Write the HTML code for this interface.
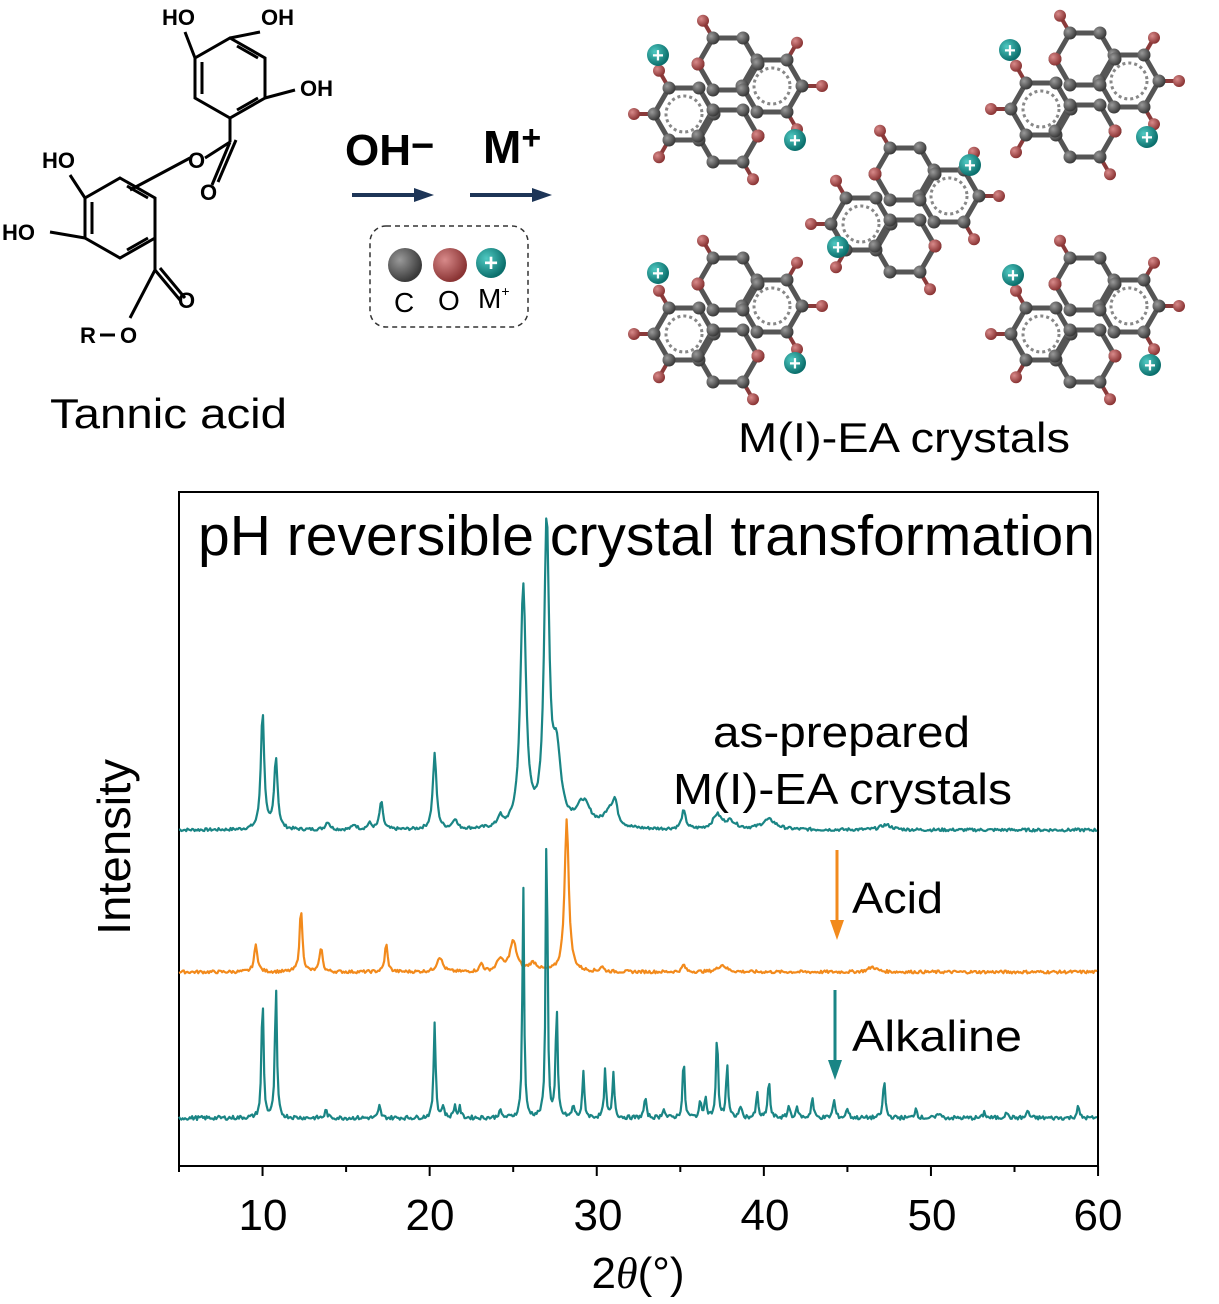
<!DOCTYPE html>
<html><head><meta charset="utf-8"><style>
html,body{margin:0;padding:0;background:#fff}
svg{display:block}
text{font-family:"Liberation Sans",Arial,sans-serif}
</style></head><body>
<svg id="s" width="1219" height="1304" viewBox="0 0 1219 1304" xmlns="http://www.w3.org/2000/svg">
<defs>
<radialGradient id="gC" cx="35%" cy="35%" r="65%"><stop offset="0" stop-color="#9a9a9a"/><stop offset="1" stop-color="#3a3a3a"/></radialGradient>
<radialGradient id="gO" cx="35%" cy="35%" r="65%"><stop offset="0" stop-color="#d88a8a"/><stop offset="1" stop-color="#8a3434"/></radialGradient>
<radialGradient id="gM" cx="35%" cy="35%" r="65%"><stop offset="0" stop-color="#4fc9c2"/><stop offset="1" stop-color="#0b6f6c"/></radialGradient>
</defs>
<!-- Tannic acid structure -->
<g stroke="#000" stroke-width="3" fill="none">
<polygon points="230,38 265,58 265,98 230,118 195,98 195,58"/>
<line x1="202" y1="62" x2="202" y2="94"/><line x1="237" y1="46" x2="258" y2="58"/><line x1="237" y1="110" x2="258" y2="98"/>
<line x1="195" y1="58" x2="185" y2="32"/><line x1="230" y1="38" x2="260" y2="32"/><line x1="265" y1="98" x2="295" y2="90"/>
<line x1="230" y1="118" x2="230" y2="142"/><line x1="230" y1="142" x2="205" y2="158"/><line x1="230" y1="142" x2="212" y2="185"/><line x1="236" y1="140" x2="218" y2="182"/>
<line x1="190" y1="158" x2="130" y2="190"/>
<polygon points="120,178 155,198 155,238 120,258 85,238 85,198"/>
<line x1="92" y1="202" x2="92" y2="234"/><line x1="127" y1="186" x2="148" y2="198"/><line x1="127" y1="250" x2="148" y2="238"/>
<line x1="85" y1="198" x2="70" y2="175"/><line x1="85" y1="238" x2="50" y2="232"/>
<line x1="155" y1="238" x2="155" y2="270"/><line x1="155" y1="270" x2="180" y2="300"/><line x1="160" y1="268" x2="185" y2="298"/>
<line x1="155" y1="270" x2="130" y2="318"/><line x1="100" y1="335" x2="115" y2="335"/>
</g>
<g font-size="22" font-weight="bold">
<text x="162" y="25">HO</text><text x="261" y="25">OH</text><text x="300" y="96">OH</text>
<text x="188" y="168">O</text><text x="200" y="200">O</text>
<text x="42" y="168">HO</text><text x="2" y="240">HO</text>
<text x="178" y="308">O</text><text x="80" y="343">R</text><text x="120" y="343">O</text>
</g>
<text x="50" y="428" font-size="42" textLength="237" lengthAdjust="spacingAndGlyphs">Tannic acid</text>
<!-- arrows -->
<text x="345" y="165" font-size="44" font-weight="bold">OH<tspan font-size="40" dy="-6">−</tspan></text>
<text x="483" y="163" font-size="46" font-weight="bold">M<tspan font-size="34" dy="-14">+</tspan></text>
<line x1="352" y1="195" x2="418" y2="195" stroke="#1d3557" stroke-width="4"/><path d="M414,188 L434,195 L414,202z" fill="#1d3557"/>
<line x1="470" y1="195" x2="536" y2="195" stroke="#1d3557" stroke-width="4"/><path d="M532,188 L552,195 L532,202z" fill="#1d3557"/>
<rect x="370" y="226" width="158" height="101" rx="16" fill="none" stroke="#333" stroke-width="1.5" stroke-dasharray="5,4"/>
<circle cx="405" cy="265" r="17" fill="url(#gC)"/><circle cx="450" cy="265" r="17" fill="url(#gO)"/><circle cx="491" cy="263" r="15" fill="url(#gM)"/>
<text x="491" y="271" font-size="24" font-weight="bold" fill="#fff" text-anchor="middle">+</text>
<text x="394" y="312" font-size="28">C</text><text x="438" y="310" font-size="28">O</text><text x="478" y="308" font-size="28">M<tspan font-size="14" dy="-12">+</tspan></text>
<g id="mols"></g>
<text x="738" y="452" font-size="42" textLength="332" lengthAdjust="spacingAndGlyphs">M(I)-EA crystals</text>
<!-- chart -->
<rect x="179" y="492" width="919" height="674" fill="none" stroke="#000" stroke-width="2"/>
<g id="ticks" stroke="#000" stroke-width="2"></g>
<g font-size="44" text-anchor="middle">
<text x="263" y="1230">10</text><text x="430" y="1230">20</text><text x="598" y="1230">30</text><text x="765" y="1230">40</text><text x="932" y="1230">50</text><text x="1098" y="1230">60</text>
</g>
<text x="638" y="1288" font-size="44" text-anchor="middle">2<tspan font-family="Liberation Serif" font-style="italic">θ</tspan>(°)</text>
<text transform="translate(130,847) rotate(-90)" font-size="46" text-anchor="middle" textLength="176" lengthAdjust="spacingAndGlyphs">Intensity</text>
<g id="traces"></g>
<text x="198" y="555" font-size="57" textLength="897" lengthAdjust="spacingAndGlyphs">pH reversible crystal transformation</text>
<text x="713" y="747" font-size="44" textLength="257" lengthAdjust="spacingAndGlyphs">as-prepared</text>
<text x="673" y="804" font-size="44" textLength="339" lengthAdjust="spacingAndGlyphs">M(I)-EA crystals</text>
<line x1="837" y1="850" x2="837" y2="925" stroke="#f28a1c" stroke-width="3"/><path d="M830,920 L844,920 L837,940z" fill="#f28a1c"/>
<text x="852" y="913" font-size="44" textLength="91" lengthAdjust="spacingAndGlyphs">Acid</text>
<line x1="835" y1="990" x2="835" y2="1063" stroke="#1a8585" stroke-width="3"/><path d="M828,1060 L842,1060 L835,1080z" fill="#1a8585"/>
<text x="852" y="1051" font-size="44" textLength="170" lengthAdjust="spacingAndGlyphs">Alkaline</text>
</svg>
<script>
(function(){
var NS="http://www.w3.org/2000/svg";
function el(t,a,p){var e=document.createElementNS(NS,t);for(var k in a)e.setAttribute(k,a[k]);p.appendChild(e);return e;}
var tk=document.getElementById('ticks');
for(var d=5;d<=60;d+=5){var x=179+(d-5)*16.71;el('line',{x1:x,y1:1166,x2:x,y2:d%10==0?1176:1172},tk);}
var tr=document.getElementById('traces');
var seed=7;function rnd(){seed=(seed*9301+49297)%233280;return seed/233280;}
function trace(base,peaks,col,w,noise){
 var pts=[];for(var x=179;x<=1098;x+=1.2){var d=5+(x-179)/16.71;var y=0;
  for(var i=0;i<peaks.length;i++){var p=peaks[i];var g=(d-p[0])/(p[2]||w);y+=p[1]/(1+g*g);}
  y+=(rnd()-0.5)*noise;pts.push(x.toFixed(1)+','+(base-y).toFixed(1));}
 el('polyline',{points:pts.join(' '),fill:'none',stroke:col,'stroke-width':2.2,'stroke-linejoin':'round'},tr);}
trace(830,[[10.0,118,.12],[10.8,72,.12],[13.9,8],[15.5,5],[16.4,6],[17.1,28,.12],[20.3,75,.13],[21.5,10],[24.2,10],[25.6,240,.2],[27.0,298,.18],[27.6,70,.3],[29.2,25,.5],[30.8,18,.4],[31.1,18],[35.2,18,.15],[37.2,14,.3],[38,8,.4],[40.3,10,.5],[47.3,5,.4]],'#1a8585',0.15,3);
trace(972,[[9.6,27,.12],[12.3,63,.1],[13.5,25,.1],[17.4,28,.1],[20.6,15,.2],[23.1,8],[24.2,12,.2],[25.0,30,.25],[26.2,8,.3],[28.2,152,.15],[30.3,5],[35.2,7],[37.5,7,.3],[46.5,5,.3]],'#f28a1c',0.12,3);
trace(1118,[[10.0,125,.07],[10.8,132,.07],[13.8,8],[17.0,12],[20.3,96,.07],[20.8,12],[21.5,12],[21.8,10],[24.2,8],[25.6,237,.06],[27.0,316,.06],[27.6,110,.07],[28.6,12],[29.2,45,.07],[30.5,47,.07],[31.0,45,.07],[32.9,20,.08],[34,10],[35.2,60,.07],[36.2,15],[36.5,20],[37.2,85,.07],[37.8,55,.07],[38.6,12],[39.6,25,.07],[40.3,40,.07],[41.5,12],[42.0,10],[42.9,20],[44.2,18],[45,10],[47.2,38,.08],[49.1,10],[50.5,6],[53.2,6],[54.5,7],[55.8,8],[58.8,12]],'#1a8585',0.08,4);
var m=document.getElementById('mols');
function hex(cx,cy,r,rot){var p=[];for(var i=0;i<6;i++){var a=(rot+60*i)*Math.PI/180;p.push([cx+r*Math.cos(a),cy+r*Math.sin(a)]);}return p;}
function unit(cx,cy){
 var r=30,g=el('g',{},m);
 var A=hex(cx-44,cy+14,r,0),B=hex(cx+44,cy-14,r,0);
 var C=hex(cx+0,cy-36,r,0),D=hex(cx+0,cy+36,r,0);
 var bonds=[],atoms=[];
 [A,B,C,D].forEach(function(h){for(var i=0;i<6;i++){bonds.push([h[i],h[(i+1)%6]]);atoms.push(h[i]);}});
 bonds.forEach(function(b){el('line',{x1:b[0][0],y1:b[0][1],x2:b[1][0],y2:b[1][1],stroke:'#555','stroke-width':5},g);});
 [A,B].forEach(function(h,k){var c=k?[cx+44,cy-14]:[cx-44,cy+14];el('circle',{cx:c[0],cy:c[1],r:18,fill:'none',stroke:'#888','stroke-width':3,'stroke-dasharray':'3,3'},g);});
 var subs=[[A,3,1],[A,2,1],[A,4,1],[B,0,1],[B,5,1],[B,1,1],[C,4,1],[D,1,1]];
 subs.forEach(function(s){var h=s[0],a=h[s[1]];var c=h===A?[cx-44,cy+14]:h===B?[cx+44,cy-14]:h===C?[cx,cy-36]:[cx,cy+36];
  var dx=a[0]-c[0],dy=a[1]-c[1],L=Math.hypot(dx,dy);var e=[a[0]+dx/L*20,a[1]+dy/L*20];
  el('line',{x1:a[0],y1:a[1],x2:e[0],y2:e[1],stroke:'#8a3a3a','stroke-width':4},g);
  el('circle',{cx:e[0],cy:e[1],r:6,fill:'url(#gO)'},g);});
 atoms.forEach(function(a){el('circle',{cx:a[0],cy:a[1],r:6.5,fill:'url(#gC)'},g);});
 el('circle',{cx:C[3][0],cy:C[3][1],r:6.5,fill:'url(#gO)'},g);
 el('circle',{cx:D[0][0],cy:D[0][1],r:6.5,fill:'url(#gO)'},g);
}
[[728,100],[1085,95],[905,210],[728,320],[1085,320]].forEach(function(c){unit(c[0],c[1]);});
[[658,55],[795,140],[970,165],[838,247],[658,273],[795,363],[1010,50],[1147,137],[1013,275],[1150,365]].forEach(function(c){
 el('circle',{cx:c[0],cy:c[1],r:11,fill:'url(#gM)'},m);
 var t=el('text',{x:c[0],y:c[1]+7,'font-size':20,'font-weight':'bold',fill:'#fff','text-anchor':'middle'},m);t.textContent='+';});
})();
</script>
</body></html>
